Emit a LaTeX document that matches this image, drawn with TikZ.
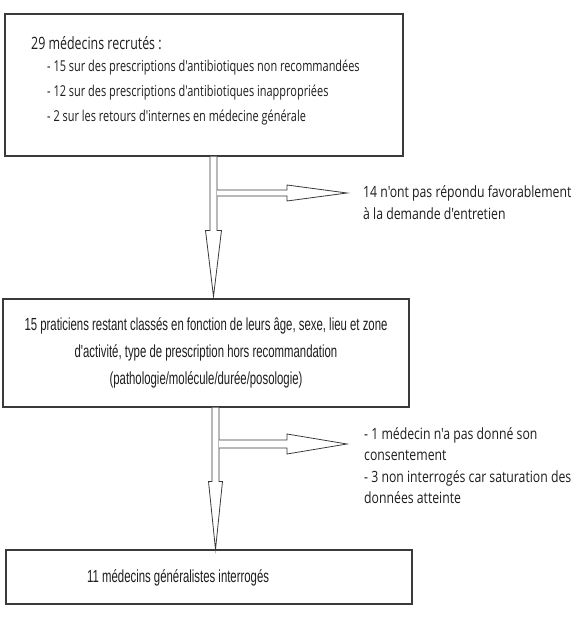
\documentclass[tikz,border=0pt]{standalone}
\usepackage{fontspec}
\setmainfont{Liberation Sans}
\newfontfamily\segoe[FakeStretch=0.73]{Open Sans}
\newfontfamily\segoeside[FakeStretch=0.79]{Open Sans}
\newfontfamily\arialn[FakeStretch=0.65]{Liberation Sans}
\usetikzlibrary{calc}
\definecolor{ink}{HTML}{1E1E1E}
\definecolor{edge}{HTML}{3A3A3A}
\tikzset{
  boxnode/.style={draw=edge, line width=1.1pt, fill=white, rectangle, inner sep=0pt},
  blockarrow/.style={draw=edge, line width=0.8pt, fill=white, line join=miter},
  sidetext/.style={anchor=west, align=left, inner sep=0pt, text=ink, font=\segoeside\fontsize{15.5}{21.5}\selectfont},
}
\begin{document}
\begin{tikzpicture}[x=1pt,y=-1pt]
\useasboundingbox (0,0) rectangle (585,637);
\fill[white] (0,0) rectangle (585,637);

% boxes
\node[boxnode, minimum width=398pt, minimum height=142pt] (b1) at (204,85) {};
\node[boxnode, minimum width=406pt, minimum height=108pt] (b2) at (206,353) {};
\node[boxnode, minimum width=406pt, minimum height=54pt] (b3) at (209,577) {};

% box 1 text
\node[anchor=west, inner sep=0pt, text=ink, font=\segoe\fontsize{17}{20}\selectfont] (t1a) at (31,43) {29 médecins recrutés :};
\node[anchor=north west, align=left, inner sep=0pt, text=ink, font=\segoe\fontsize{15}{25}\selectfont] (t1b) at (47,60)
 {- 15 sur des prescriptions d'antibiotiques non recommandées\\
  - 12 sur des prescriptions d'antibiotiques inappropriées\\
  - 2 sur les retours d'internes en médecine générale};

% box 2 text
\node[align=center, inner sep=0pt, text=ink, font=\arialn\fontsize{17.5}{27}\selectfont] (t2) at (b2.center)
 {15 praticiens restant classés en fonction de leurs âge, sexe, lieu et zone\\
  d'activité, type de prescription hors recommandation\\
  (pathologie/molécule/durée/posologie)};

% box 3 text
\node[anchor=west, inner sep=0pt, text=ink, font=\arialn\fontsize{17.5}{20}\selectfont] (t3) at (87,578) {11 médecins généralistes interrogés};

% side texts
\node[sidetext] (s1) at (363,202.5) {14 n'ont pas répondu favorablement\\à la demande d'entretien};
\node[sidetext] (s2) at (364,465.5) {- 1 médecin n'a pas donné son\\consentement\\- 3 non interrogés car saturation des\\données atteinte};

% arrow anchors
\coordinate (a1) at (213.5,0);
\coordinate (h1) at (347,193);
\coordinate (a2) at (215.5,0);
\coordinate (h2) at (347,444);

% vertical arrow 1
\draw[blockarrow] let \p1=(b1.south -| a1), \p2=(b2.north -| a1) in
  (\x1-3.5pt,\y1) -- (\x1-3.5pt,\y2+68pt) -- (\x1-8pt,\y2+68pt) -- (\x2,\y2+2pt)
  -- (\x1+8pt,\y2+68pt) -- (\x1+3.5pt,\y2+68pt) -- (\x1+3.5pt,\y1);
% side arrow 1
\draw[blockarrow] let \p1=(a1), \p3=(h1) in
  (\x1+3.5pt,\y3+3pt) -- (\x3-60pt,\y3+3pt) -- (\x3-60pt,\y3+8pt) -- (\x3,\y3)
  -- (\x3-60pt,\y3-8pt) -- (\x3-60pt,\y3-3pt) -- (\x1+3.5pt,\y3-3pt);

% vertical arrow 2
\draw[blockarrow] let \p1=(b2.south -| a2), \p2=(b3.north -| a2) in
  (\x1-3.5pt,\y1) -- (\x1-3.5pt,\y2+68pt) -- (\x1-7pt,\y2+68pt) -- (\x2,\y2)
  -- (\x1+7pt,\y2+68pt) -- (\x1+3.5pt,\y2+68pt) -- (\x1+3.5pt,\y1);
% side arrow 2
\draw[blockarrow] let \p1=(a2), \p3=(h2) in
  (\x1+3.5pt,\y3+4pt) -- (\x3-60pt,\y3+4pt) -- (\x3-60pt,\y3+10pt) -- (\x3,\y3)
  -- (\x3-60pt,\y3-10pt) -- (\x3-60pt,\y3-4pt) -- (\x1+3.5pt,\y3-4pt);
\end{tikzpicture}
\end{document}
